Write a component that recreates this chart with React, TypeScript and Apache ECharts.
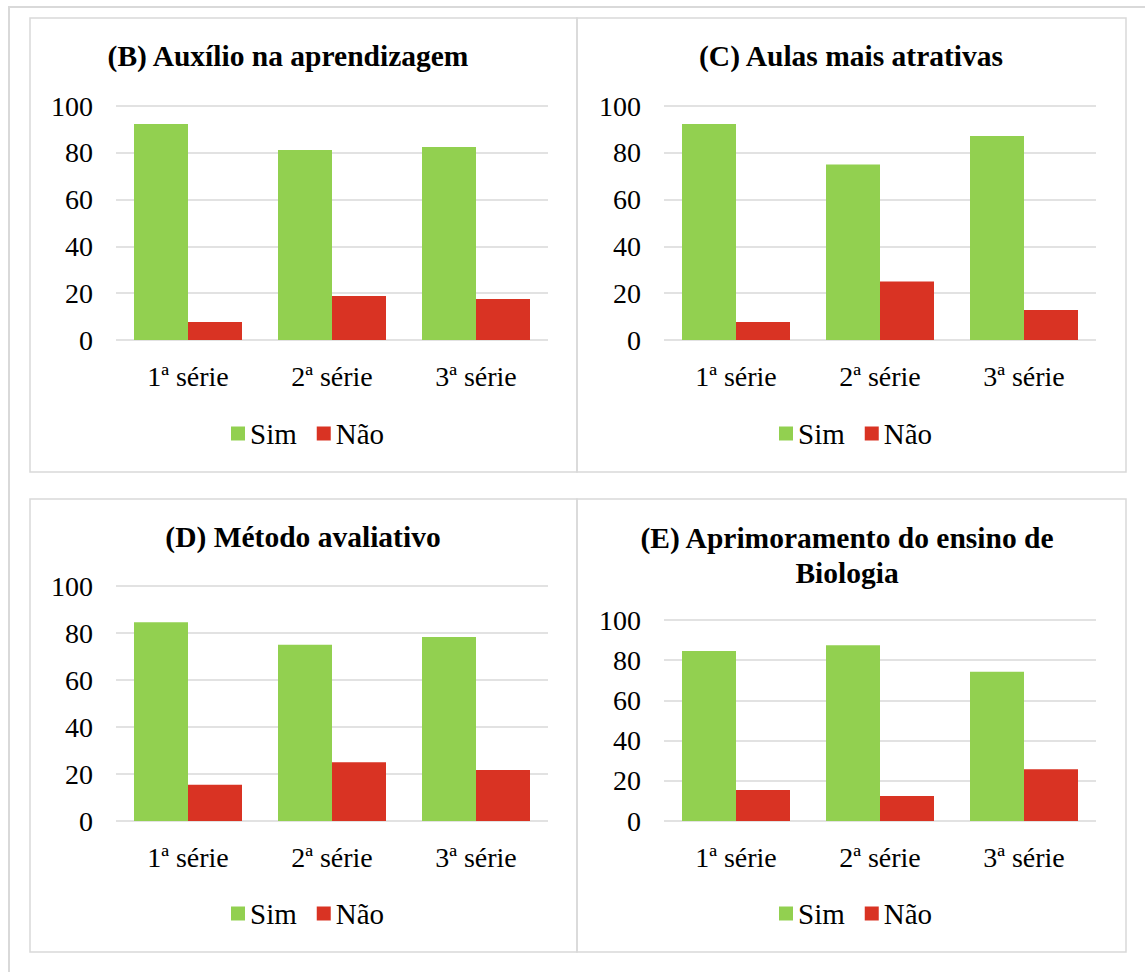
import React, { useEffect, useRef } from "react";
import * as echarts from "echarts";

// Categories and the percentages of "Sim" / "Não" answers per panel
const categories = ["1ª série", "2ª série", "3ª série"];
const seriesNames = ["Sim", "Não"];

const simB = [92.3, 81.2, 82.5];
const naoB = [7.7, 18.8, 17.5];

const simC = [92.3, 75.0, 87.2];
const naoC = [7.7, 25.0, 12.8];

const simD = [84.6, 75.0, 78.3];
const naoD = [15.4, 25.0, 21.7];

const simE = [84.6, 87.5, 74.2];
const naoE = [15.4, 12.5, 25.8];

const titles = [
  "(B) Auxílio na aprendizagem",
  "(C) Aulas mais atrativas",
  "(D) Método avaliativo",
  "(E) Aprimoramento do ensino de\nBiologia",
];

const yMin = 0;
const yMax = 100;
const yStep = 20;

const GREEN = "#92D050";
const RED = "#D93323";
const GRID_LINE = "#D9D9D9";
const FONT = "Liberation Serif";

// Layout of each panel: frame, plot area, title centre, legend position
const panels = [
  { sim: simB, nao: naoB, frame: [30, 18, 547, 454], plot: [116, 106, 432, 234], title: [288, 56], legend: [231, 419] },
  { sim: simC, nao: naoC, frame: [577, 18, 549, 454], plot: [664, 106, 432, 234], title: [851, 56], legend: [779, 419] },
  { sim: simD, nao: naoD, frame: [30, 499, 547, 453], plot: [116, 586, 432, 235], title: [303, 537], legend: [231, 899] },
  { sim: simE, nao: naoE, frame: [577, 499, 549, 453], plot: [664, 620, 432, 201], title: [847, 555], legend: [779, 899] },
];

export default function App() {
  const ref = useRef<HTMLDivElement>(null);

  useEffect(() => {
    if (!ref.current) return;
    const chart = echarts.init(ref.current, undefined, { renderer: "svg" });

    const grid: any[] = [];
    const xAxis: any[] = [];
    const yAxis: any[] = [];
    const series: any[] = [];
    const legend: any[] = [];
    const graphic: any[] = [];

    // outer frame around the whole figure
    graphic.push({
      type: "rect",
      shape: { x: 9, y: 7, width: 1150, height: 990 },
      style: { fill: "none", stroke: GRID_LINE, lineWidth: 2 },
      silent: true,
    });

    panels.forEach((p, i) => {
      const [fx, fy, fw, fh] = p.frame;
      const [gx, gy, gw, gh] = p.plot;
      graphic.push({
        type: "rect",
        shape: { x: fx, y: fy, width: fw, height: fh },
        style: { fill: "none", stroke: GRID_LINE, lineWidth: 1.5 },
        silent: true,
      });
      graphic.push({
        type: "text",
        x: p.title[0],
        y: p.title[1],
        style: {
          text: titles[i],
          fontFamily: FONT,
          fontWeight: "bold",
          fontSize: 29.5,
          fill: "#000",
          textAlign: "center",
          textVerticalAlign: "middle",
          lineHeight: 35,
        },
        silent: true,
      });

      grid.push({ left: gx, top: gy, width: gw, height: gh, containLabel: false });
      xAxis.push({
        type: "category",
        gridIndex: i,
        data: categories,
        axisLine: { show: false },
        axisTick: { show: false },
        axisLabel: { color: "#000", fontFamily: FONT, fontSize: 28, margin: 22 },
      });
      yAxis.push({
        type: "value",
        gridIndex: i,
        min: yMin,
        max: yMax,
        interval: yStep,
        axisLine: { show: false },
        axisTick: { show: false },
        axisLabel: { color: "#000", fontFamily: FONT, fontSize: 28, margin: 23 },
        splitLine: { lineStyle: { color: GRID_LINE, width: 1.5 } },
      });
      series.push({
        name: seriesNames[0],
        type: "bar",
        xAxisIndex: i,
        yAxisIndex: i,
        data: p.sim,
        itemStyle: { color: GREEN },
        barGap: "0%",
        barCategoryGap: "25%",
      });
      series.push({
        name: seriesNames[1],
        type: "bar",
        xAxisIndex: i,
        yAxisIndex: i,
        data: p.nao,
        itemStyle: { color: RED },
        barGap: "0%",
        barCategoryGap: "25%",
      });
      legend.push({
        data: seriesNames,
        left: p.legend[0],
        top: p.legend[1],
        padding: 0,
        icon: "rect",
        itemWidth: 14,
        itemHeight: 14,
        itemGap: 20,
        selectedMode: false,
        textStyle: { color: "#000", fontFamily: FONT, fontSize: 29 },
      });
    });

    chart.setOption({
      animation: false,
      backgroundColor: "#fff",
      grid,
      xAxis,
      yAxis,
      series,
      legend,
      graphic,
    });

    return () => chart.dispose();
  }, []);

  return (
    <div
      ref={ref}
      style={{ position: "absolute", left: 0, top: 0, width: 1145, height: 972 }}
    />
  );
}
